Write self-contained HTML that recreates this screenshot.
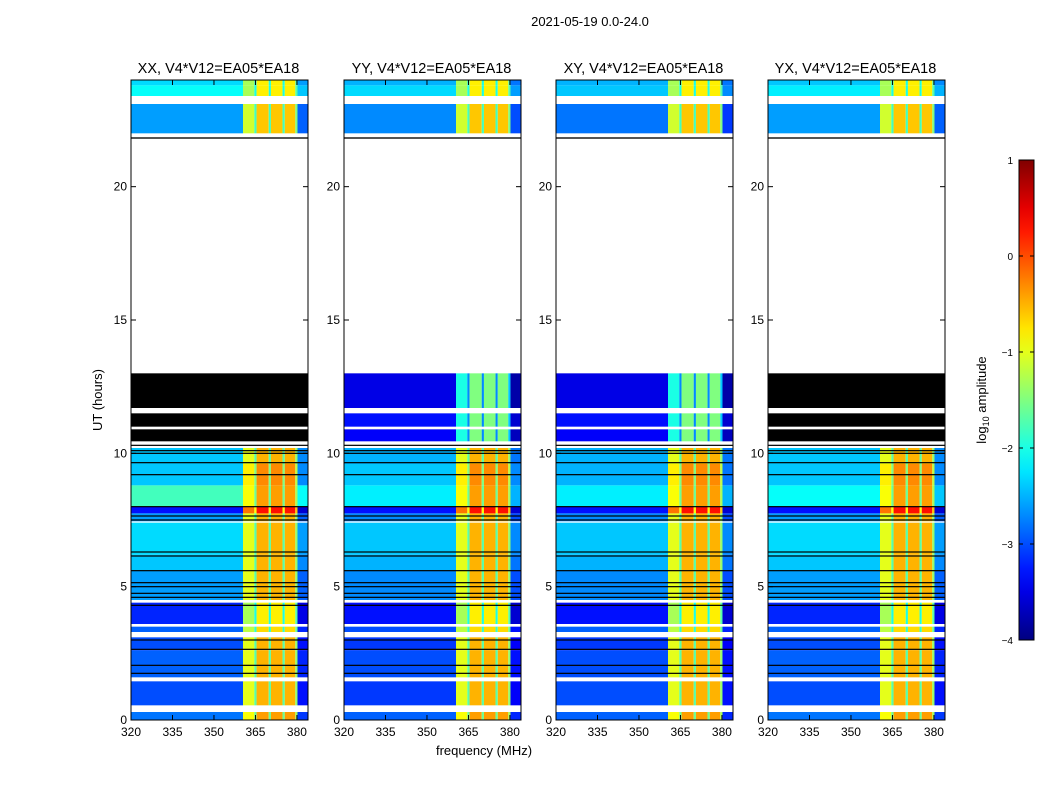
<!DOCTYPE html>
<html><head><meta charset="utf-8"><style>
body{margin:0;background:#fff;}
svg{display:block;font-family:"Liberation Sans",sans-serif;}
</style></head><body>
<svg id="fig" width="1050" height="800" viewBox="0 0 1050 800" xmlns="http://www.w3.org/2000/svg">
<rect width="1050" height="800" fill="#fff"/>
<text x="590" y="26" font-size="13" text-anchor="middle">2021-05-19 0.0-24.0</text>
<text x="102" y="400" font-size="13" text-anchor="middle" transform="rotate(-90 102 400)">UT (hours)</text>
<text x="484" y="755" font-size="13" text-anchor="middle">frequency (MHz)</text>
<g id="panels"></g>
<g id="cbar"></g>
<text x="986" y="400" font-size="13" text-anchor="middle" transform="rotate(-90 986 400)">log<tspan font-size="9" dy="3">10</tspan><tspan dy="-3"> amplitude</tspan></text>
</svg>
<script>
const panelNames = ["XX","YY","XY","YX"];
const segStart = [0,   0.55,1.6, 2.6, 3.3, 3.6, 4.5, 5.6, 6.2, 7.45,7.75,8.0, 8.8, 9.6, 10.45,11.0,11.7,21.8, 22.0,23.4,23.8];
const segEnd   = [0.3, 1.45,2.6, 3.1, 3.5, 4.4, 5.6, 6.2, 7.4, 7.75,8.0, 8.8, 9.6, 10.2,10.9, 11.5,13.0,21.85,23.1,23.8,24.0];
const highLevel= [-0.4,-0.5,-0.5,-0.5,-0.7,-0.8,-0.5,-0.5,-0.5,-0.5,0.3,-0.4,-0.3,-0.5,-1.5,-1.5,-1.5,null,-0.6,-0.8,-0.8];
const lowXX = [-2.8,-3.0,-2.9,-3.0,-2.9,-3.2,-2.6,-2.4,-2.3,-2.6,-3.3,-1.8,-2.4,-2.4,null,null,null,null,-2.6,-2.1,-2.3];
const lowYY = [-2.9,-3.1,-3.0,-3.1,-3.0,-3.3,-2.7,-2.5,-2.4,-2.7,-3.3,-2.2,-2.4,-2.5,-3.4,-3.3,-3.5,null,-2.7,-2.3,-2.5];
const lowXY = [-2.9,-3.0,-3.0,-3.1,-2.9,-3.3,-2.7,-2.5,-2.4,-2.7,-3.3,-2.2,-2.5,-2.5,-3.4,-3.3,-3.5,null,-2.8,-2.4,-2.5];
const lowYX = [-2.8,-3.0,-2.9,-3.0,-2.9,-3.2,-2.6,-2.4,-2.3,-2.6,-3.3,-2.1,-2.4,-2.4,null,null,null,null,-2.6,-2.2,-2.4];
const lowLevels = [lowXX,lowYY,lowXY,lowYX];
const colEdges = [320,360.5,364.6,365.4,369.8,370.6,374.8,375.6,379.4,380.2,384];
const colOffset = [null,-0.5,-1.2,0,-1.2,0,-1.2,0,-0.9,null];
const blackLines = [1.75,2.05,2.65,3.0,4.3,4.6,4.75,5.0,5.15,5.6,6.15,6.3,7.5,7.65,8.0,9.2,9.65,10.0,10.1,10.3];
const xTicks = [320,335,350,365,380];
const yTicks = [0,5,10,15,20];
const cbTicks = [1,0,-1,-2,-3,-4];

const NS="http://www.w3.org/2000/svg";
const panelX=[131,344,556,768], PW=177, PT=80, PB=720;
function mk(t,a,p){const e=document.createElementNS(NS,t);for(const k in a)e.setAttribute(k,a[k]);(p||null)&&p.appendChild(e);return e;}
function jet(v){let t=(v+4)/5;t=Math.max(0,Math.min(1,t));
 const f=x=>Math.max(0,Math.min(1,1.5-Math.abs(4*t-x)));
 return `rgb(${Math.round(255*f(3))},${Math.round(255*f(2))},${Math.round(255*f(1))})`;}
function yS(t){return PB-t*(PB-PT)/24;}
const g=document.getElementById('panels');
panelNames.forEach((nm,pi)=>{
 const x0=panelX[pi]; const xS=f=>x0+(f-320)*PW/64;
 const pg=mk('g',{},g);
 
 
 const low=lowLevels[pi];
 for(let s=0;s<segStart.length;s++){
  const y1=yS(segEnd[s]), y2=yS(segStart[s]);
  if(low[s]===null||highLevel[s]===null){
   const r=mk('rect',{x:x0,y:y1,width:PW,height:y2-y1,fill:'#000'},pg);
   
   
   continue;}
  for(let c=0;c<colOffset.length;c++){
   const v=colOffset[c]===null?low[s]-(c===colOffset.length-1?0.3:0):highLevel[s]+colOffset[c];
   const r=mk('rect',{x:xS(colEdges[c]),y:y1,width:xS(colEdges[c+1])-xS(colEdges[c]),height:y2-y1,fill:jet(v)},pg);
   
   
  }
 }
 blackLines.forEach(t=>{const l=mk('rect',{x:x0,y:yS(t)-0.6,width:PW,height:1.2,fill:'#000'},pg);
  
  });
 const fr=mk('rect',{x:x0,y:PT,width:PW,height:PB-PT,fill:'none',stroke:'#000','stroke-width':1},pg);
 
 
 xTicks.forEach(f=>{const x=xS(f);mk('line',{x1:x,x2:x,y1:PB,y2:PB-5,stroke:'#000'},pg);mk('line',{x1:x,x2:x,y1:PT,y2:PT+5,stroke:'#000'},pg);
  const t=mk('text',{x:x,y:PB+16,'font-size':12,'text-anchor':'middle'},pg);t.textContent=f;
  
  });
 yTicks.forEach(v=>{const y=yS(v);mk('line',{x1:x0,x2:x0+5,y1:y,y2:y,stroke:'#000'},pg);mk('line',{x1:x0+PW,x2:x0+PW-5,y1:y,y2:y,stroke:'#000'},pg);
  const t=mk('text',{x:x0-4,y:y+4,'font-size':12,'text-anchor':'end'},pg);t.textContent=v;
  
  });
 const tt=mk('text',{x:x0+PW/2-1,y:73,'font-size':14.5,'text-anchor':'middle'},pg);tt.textContent=nm+', V4*V12=EA05*EA18';
 
 
});
const cb=document.getElementById('cbar');
const CX=1019,CW=15,CT=160,CB=640;
const defs=mk('defs',{},cb);const gr=mk('linearGradient',{id:'jg',x1:0,y1:1,x2:0,y2:0},defs);
for(let i=0;i<=20;i++){mk('stop',{offset:i/20,'stop-color':jet(-4+5*i/20)},gr);}
mk('rect',{x:CX,y:CT,width:CW,height:CB-CT,fill:'url(#jg)',stroke:'#000'},cb);
cbTicks.forEach(v=>{const y=CB-(v+4)/5*(CB-CT);
 mk('line',{x1:CX,x2:CX+4,y1:y,y2:y,stroke:'#000'},cb);mk('line',{x1:CX+CW,x2:CX+CW-4,y1:y,y2:y,stroke:'#000'},cb);
 const t=mk('text',{x:CX-6,y:y+4,'font-size':10,'text-anchor':'end'},cb);t.textContent=v<0?'\u2212'+(-v):v;
 
 });
</script>
</body></html>
